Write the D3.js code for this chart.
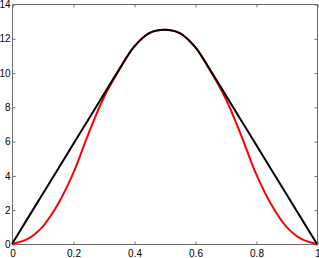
<!DOCTYPE html>
<html>
<head>
<meta charset="utf-8">
<script src="https://cdn.jsdelivr.net/npm/d3@7"></script>
<style>
  body { margin: 0; background: #fff; }
  svg { display: block; }
</style>
</head>
<body>
<svg id="chart"></svg>
<script>
// data
const xs = [0, 0.05, 0.1, 0.15, 0.2, 0.25, 0.3, 0.35, 0.4, 0.45, 0.5,
            0.55, 0.6, 0.65, 0.7, 0.75, 0.8, 0.85, 0.9, 0.95, 1];
const blackVals = [0, 1.45, 2.9, 4.35, 5.8, 7.25, 8.7, 10.15, 11.5, 12.3, 12.5,
                   12.3, 11.5, 10.15, 8.7, 7.25, 5.8, 4.35, 2.9, 1.45, 0];
const redVals = [0, 0.28, 1.0, 2.3, 4.1, 6.4, 8.5, 10.1, 11.5, 12.3, 12.5,
                 12.3, 11.5, 10.1, 8.5, 6.4, 4.1, 2.3, 1.0, 0.28, 0];
const xTicks = [0, 0.2, 0.4, 0.6, 0.8, 1];
const yTicks = [0, 2, 4, 6, 8, 10, 12, 14];

const width = 319, height = 258;
const plotLeft = 12, plotRight = 317, plotTop = 4, plotBottom = 244;

const svg = d3.select("#chart")
  .attr("width", width)
  .attr("height", height);

const x = d3.scaleLinear().domain([0, 1]).range([plotLeft, plotRight]);
const y = d3.scaleLinear().domain([0, 14]).range([plotBottom, plotTop]);

const axisColor = "#6e6e6e";
const tickLen = 3;

// box
svg.append("rect")
  .attr("x", plotLeft + 0.5)
  .attr("y", plotTop + 0.5)
  .attr("width", plotRight - plotLeft)
  .attr("height", plotBottom - plotTop)
  .attr("fill", "none")
  .attr("stroke", axisColor)
  .attr("stroke-width", 1);

// inward ticks on all four sides
function styleAxis(g) {
  g.select(".domain").remove();
  g.selectAll(".tick line").attr("stroke", axisColor);
  g.selectAll(".tick text")
    .attr("fill", "#000")
    .attr("font-family", "Liberation Sans, Arial, sans-serif")
    .attr("font-size", 10);
}

svg.append("g")
  .attr("transform", `translate(0.5, ${plotBottom + 0.5})`)
  .call(d3.axisBottom(x).tickValues(xTicks).tickFormat(d3.format("")).tickSizeInner(-tickLen).tickPadding(5))
  .call(styleAxis);

svg.append("g")
  .attr("transform", `translate(0.5, ${plotTop + 0.5})`)
  .call(d3.axisTop(x).tickValues(xTicks).tickFormat("").tickSizeInner(-tickLen))
  .call(styleAxis);

svg.append("g")
  .attr("transform", `translate(${plotLeft + 0.5}, 0.5)`)
  .call(d3.axisLeft(y).tickValues(yTicks).tickSizeInner(-tickLen).tickPadding(2))
  .call(styleAxis);

svg.append("g")
  .attr("transform", `translate(${plotRight + 0.5}, 0.5)`)
  .call(d3.axisRight(y).tickValues(yTicks).tickFormat("").tickSizeInner(-tickLen))
  .call(styleAxis);

// curves
const line = d3.line()
  .x(d => x(d[0]))
  .y(d => y(d[1]))
  .curve(d3.curveCatmullRom);

svg.append("path")
  .datum(xs.map((v, i) => [v, redVals[i]]))
  .attr("d", line)
  .attr("fill", "none")
  .attr("stroke", "#ff0000")
  .attr("stroke-width", 2);

svg.append("path")
  .datum(xs.map((v, i) => [v, blackVals[i]]))
  .attr("d", line)
  .attr("fill", "none")
  .attr("stroke", "#000")
  .attr("stroke-width", 2);
</script>
</body>
</html>
